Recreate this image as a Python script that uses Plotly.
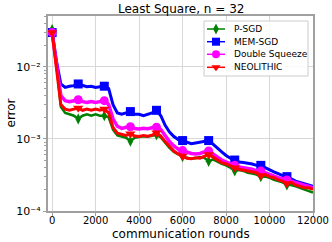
import plotly.graph_objects as go

rounds = list(range(0, 12001, 200))
marker_rounds = list(range(0, 12000, 1200))

p_sgd = [0.033, 0.011, 0.0028, 0.0023, 0.0022, 0.0021, 0.0019, 0.0021, 0.0022, 0.0021,
         0.0022, 0.0021, 0.0021, 0.0020, 0.00135, 0.00112, 0.00108, 0.00104, 0.00093, 0.00104,
         0.00106, 0.00109, 0.00107, 0.00110, 0.00114, 0.00105, 0.00088, 0.00075, 0.00066, 0.00061,
         0.00057, 0.00055, 0.00053, 0.00054, 0.00056, 0.00055, 0.00049, 0.00052, 0.00048, 0.00045,
         0.00043, 0.00040, 0.00036, 0.00037, 0.00036, 0.00034, 0.00033, 0.00032, 0.00030, 0.00030,
         0.00029, 0.00027, 0.00026, 0.00025, 0.00023, 0.00023, 0.00022, 0.00021, 0.00020, 0.00019,
         0.00018]

mem_sgd = [0.030, 0.012, 0.0058, 0.0052, 0.0054, 0.0055, 0.0058, 0.0056, 0.0053, 0.0054,
           0.0052, 0.0053, 0.0054, 0.0050, 0.0030, 0.0023, 0.0022, 0.0023, 0.0024, 0.0022,
           0.0022, 0.0021, 0.0022, 0.0023, 0.0025, 0.0021, 0.00155, 0.00125, 0.00108, 0.00098,
           0.00095, 0.00090, 0.00086, 0.00088, 0.00091, 0.00094, 0.00095, 0.00085, 0.00074, 0.00066,
           0.00059, 0.00054, 0.00051, 0.00048, 0.00047, 0.00046, 0.00045, 0.00043, 0.00043, 0.00040,
           0.00037, 0.00035, 0.00033, 0.00031, 0.00030, 0.00028, 0.00026, 0.00025, 0.00024, 0.00023,
           0.00022]

double_squeeze = [0.030, 0.010, 0.0040, 0.0034, 0.0033, 0.0034, 0.0035, 0.0033, 0.0032, 0.0033,
                  0.0032, 0.0033, 0.0034, 0.0030, 0.0019, 0.0015, 0.0014, 0.00145, 0.00148, 0.00140,
                  0.00138, 0.00141, 0.00139, 0.00143, 0.00146, 0.00135, 0.00112, 0.00092, 0.00080, 0.00072,
                  0.00069, 0.00065, 0.00063, 0.00062, 0.00063, 0.00066, 0.00068, 0.00062, 0.00056, 0.00051,
                  0.00048, 0.00046, 0.00043, 0.00041, 0.00040, 0.00039, 0.00038, 0.00036, 0.00036, 0.00034,
                  0.00032, 0.00031, 0.00029, 0.00028, 0.00027, 0.00026, 0.00025, 0.00024, 0.00023, 0.00022,
                  0.00021]

neolithic = [0.030, 0.009, 0.0030, 0.0026, 0.0025, 0.0026, 0.0027, 0.0025, 0.0026, 0.0025,
             0.0026, 0.0025, 0.0026, 0.0023, 0.00145, 0.00120, 0.00115, 0.00112, 0.00118, 0.00110,
             0.00108, 0.00112, 0.00109, 0.00113, 0.00122, 0.00110, 0.00092, 0.00078, 0.00068, 0.00062,
             0.00058, 0.00054, 0.00053, 0.00055, 0.00054, 0.00057, 0.00061, 0.00056, 0.00051, 0.00047,
             0.00045, 0.00042, 0.00040, 0.00038, 0.00037, 0.00036, 0.00035, 0.00034, 0.00031, 0.00032,
             0.00030, 0.00029, 0.00027, 0.00026, 0.00024, 0.00025, 0.00023, 0.00022, 0.00021, 0.00021,
             0.00020]

series_names = ["P-SGD", "MEM-SGD", "Double Squeeze", "NEOLITHIC"]
series_values = [p_sgd, mem_sgd, double_squeeze, neolithic]
series_colors = ["#008000", "#0000ff", "#ff00ff", "#ff0000"]
series_symbols = ["diamond-tall", "square", "circle", "triangle-down"]
series_msize = [8, 9, 9, 9]
series_lw = [2.5, 3, 3.5, 3]

x_ticks = [0, 2000, 4000, 6000, 8000, 10000, 12000]
y_ticks = [1e-4, 1e-3, 1e-2]
y_ticktext = ["10⁻⁴", "10⁻³", "10⁻²"]
y_minor = [m * 10 ** e for e in (-4, -3, -2) for m in range(2, 10)]

# figure geometry (pixels)
W, H = 332, 242
L, R, T, B = 48, 19, 16, 31
pw, ph = W - L - R, H - T - B

fig = go.Figure()
for name, vals, color, sym, msize, lw in zip(series_names, series_values, series_colors,
                                            series_symbols, series_msize, series_lw):
    fig.add_trace(go.Scatter(x=rounds, y=vals, mode="lines", line=dict(color=color, width=lw),
                             showlegend=False, hoverinfo="skip", name=name))
    mx = [r for r in rounds if r in marker_rounds]
    my = [v for r, v in zip(rounds, vals) if r in marker_rounds]
    fig.add_trace(go.Scatter(x=mx, y=my, mode="markers",
                             marker=dict(symbol=sym, size=msize, color=color, line=dict(width=0)),
                             showlegend=False, hoverinfo="skip", name=name))

# ---- legend drawn on an overlay axis measured in pixels (x: px from left, y: px from bottom)
lx0, lx1, ly_top, ly_bot = 204, 308, 21, 76
row_y = [29, 41.7, 54.3, 67.3]
fig.add_trace(go.Scatter(x=[lx0, lx1, lx1, lx0, lx0],
                         y=[H - ly_top, H - ly_top, H - ly_bot, H - ly_bot, H - ly_top],
                         xaxis="x2", yaxis="y2", mode="lines", fill="toself",
                         fillcolor="rgba(255,255,255,0.85)", line=dict(color="#cccccc", width=1),
                         showlegend=False, hoverinfo="skip"))
for name, color, sym, ry in zip(series_names, series_colors, series_symbols, row_y):
    fig.add_trace(go.Scatter(x=[207, 216, 225], y=[H - ry] * 3, xaxis="x2", yaxis="y2",
                             mode="lines", line=dict(color=color, width=1.5),
                             showlegend=False, hoverinfo="skip"))
    fig.add_trace(go.Scatter(x=[216], y=[H - ry], xaxis="x2", yaxis="y2", mode="markers",
                             marker=dict(symbol=sym, size=8, color=color, line=dict(width=0)),
                             showlegend=False, hoverinfo="skip"))
    fig.add_annotation(x=232, y=H - ry, xref="x2", yref="y2", text=name, showarrow=False,
                       xanchor="left", yanchor="middle", font=dict(size=9, color="black"))

# axis titles and chart title
fig.add_annotation(x=0.5, y=(H - B - 233.5) / ph, xref="paper", yref="paper",
                   text="communication rounds", showarrow=False, xanchor="center",
                   yanchor="middle", borderpad=0, font=dict(size=12, color="black"))
fig.add_annotation(x=(10 - L) / pw, y=0.5, xref="paper", yref="paper", text="error",
                   textangle=-90, showarrow=False, xanchor="center", yanchor="middle",
                   font=dict(size=12, color="black"))
fig.add_annotation(x=0.5, y=(H - B - 9) / ph, xref="paper", yref="paper",
                   text="Least Square, n = 32", showarrow=False, xanchor="center",
                   yanchor="middle", font=dict(size=12, color="black"))

fig.update_layout(
    width=W, height=H,
    margin=dict(l=L, r=R, t=T, b=B, autoexpand=False),
    paper_bgcolor="white", plot_bgcolor="white",
    font=dict(family="DejaVu Sans", size=10, color="black"),
    showlegend=False,
    xaxis2=dict(overlaying="x", range=[L, W - R], visible=False, fixedrange=True),
    yaxis2=dict(overlaying="y", range=[B, H - T], visible=False, fixedrange=True),
)
fig.layout.xaxis.update(range=[-190, 12000], tickvals=x_ticks, ticktext=[str(t) for t in x_ticks],
                        showgrid=True, gridcolor="#d8d8d8", gridwidth=1, zeroline=False,
                        showline=True, linecolor="#a0a0a0", linewidth=1.5, mirror=True,
                        ticks="outside", ticklen=3, tickcolor="#a0a0a0", tickfont=dict(size=10),
                        ticklabelstandoff=-4, automargin=False)
fig.layout.yaxis.update(type="log", range=[-4, -1.293], tickvals=y_ticks, ticktext=y_ticktext,
                        showgrid=True, gridcolor="#d8d8d8", gridwidth=1, zeroline=False,
                        showline=True, linecolor="#a0a0a0", linewidth=1.5, mirror=True,
                        ticks="outside", ticklen=3.5, tickcolor="#a0a0a0", tickfont=dict(size=11),
                        minor=dict(tickvals=y_minor, ticks="outside", ticklen=2, tickcolor="#a0a0a0",
                                   showgrid=False),
                        automargin=False)

fig.write_html("out.html", config={"displayModeBar": False},
               post_script="document.body.style.margin='0';document.body.style.overflow='hidden';")
